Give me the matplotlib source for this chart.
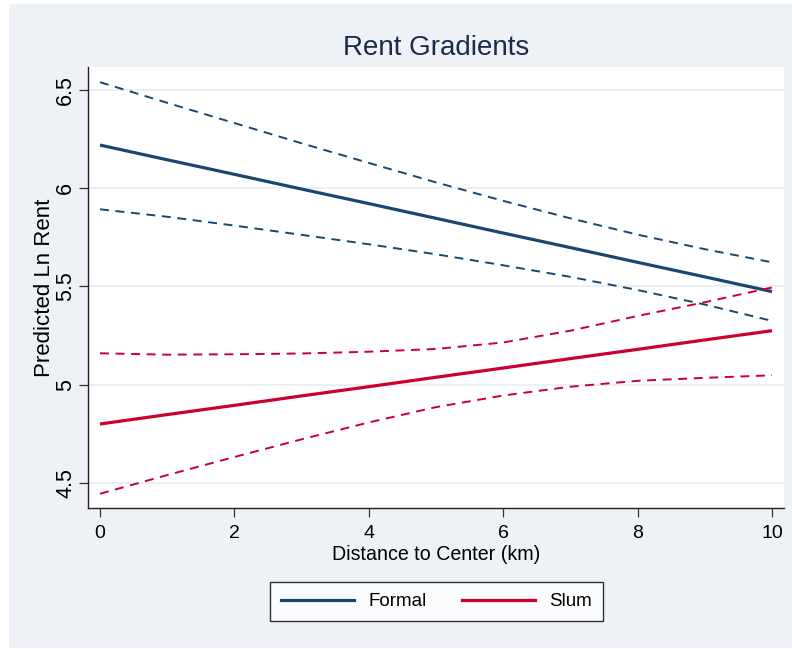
import matplotlib
matplotlib.use("Agg")
import matplotlib.pyplot as plt
from matplotlib.patches import Rectangle
from matplotlib.lines import Line2D

plt.rcParams["font.family"] = ["Liberation Sans", "DejaVu Sans"]

# Distance to center (km)
distance = [0, 1, 2, 3, 4, 5, 6, 7, 8, 9, 10]

# Formal housing: fitted ln rent and 95% band
formal_fit = [6.220, 6.145, 6.071, 5.996, 5.922, 5.847, 5.772, 5.698, 5.623, 5.549, 5.474]
formal_hi = [6.540, 6.435, 6.332, 6.229, 6.129, 6.030, 5.936, 5.847, 5.764, 5.690, 5.623]
formal_lo = [5.893, 5.855, 5.810, 5.763, 5.715, 5.664, 5.608, 5.549, 5.482, 5.408, 5.325]

# Slum housing: fitted ln rent and 95% band
slum_fit = [4.800, 4.848, 4.895, 4.943, 4.990, 5.038, 5.085, 5.133, 5.180, 5.228, 5.275]
slum_hi = [5.160, 5.153, 5.155, 5.159, 5.168, 5.182, 5.215, 5.275, 5.350, 5.420, 5.495]
slum_lo = [4.445, 4.540, 4.632, 4.722, 4.808, 4.886, 4.945, 4.990, 5.020, 5.035, 5.048]

x_ticks = [0, 2, 4, 6, 8, 10]
y_ticks = [4.5, 5, 5.5, 6, 6.5]
series_names = ["Formal", "Slum"]

NAVY = "#1A476F"
RED = "#CA0030"
BG = "#EEF1F6"
GRID = "#EAEFF4"

W, H = 792, 649
fig = plt.figure(figsize=(W / 100, H / 100), dpi=100)
fig.patch.set_facecolor("white")
fig.patches.append(Rectangle((9 / W, 1 / H), (W - 9) / W, (H - 5) / H,
                             transform=fig.transFigure, facecolor=BG,
                             edgecolor="none", zorder=-10))

ax = fig.add_axes([88 / W, 1 - 508 / H, (784 - 88) / W, (508 - 67) / H])
ax.set_facecolor("white")
for s in ["top", "right"]:
    ax.spines[s].set_visible(False)
for s in ["left", "bottom"]:
    ax.spines[s].set_color("#222222")
    ax.spines[s].set_linewidth(1.0)

ax.set_xlim(-12 / 67.2, 10 + 12 / 67.2)
ax.set_ylim(4.5 - 25 / 196, 6.5 + 23 / 196)
ax.set_xticks(x_ticks)
ax.set_xticklabels([str(t) for t in x_ticks])
ax.set_yticks(y_ticks)
ax.set_yticklabels(["4.5", "5", "5.5", "6", "6.5"], rotation=90, va="center")
ax.tick_params(axis="both", direction="out", length=6.5, width=0.9,
               color="#333333", pad=6)
ax.tick_params(axis="x", labelsize=14)
ax.tick_params(axis="y", labelsize=15.5, pad=2)
ax.yaxis.grid(True, color=GRID, linewidth=1.4)
ax.set_axisbelow(True)

dash = (4.6, 3.4)
ax.plot(distance, formal_hi, color=NAVY, lw=1.4, dashes=dash)
ax.plot(distance, formal_lo, color=NAVY, lw=1.4, dashes=dash)
ax.plot(distance, formal_fit, color=NAVY, lw=2.3, solid_capstyle="butt")
ax.plot(distance, slum_hi, color=RED, lw=1.4, dashes=dash)
ax.plot(distance, slum_lo, color=RED, lw=1.4, dashes=dash)
ax.plot(distance, slum_fit, color=RED, lw=2.3, solid_capstyle="butt")

ax.set_xlabel("Distance to Center (km)", fontsize=14.1)
ax.xaxis.set_label_coords(0.5, (508 - 555) / 441)
ax.xaxis.label.set_va("center")
ax.set_ylabel("Predicted Ln Rent", fontsize=16)
ax.yaxis.set_label_coords((44.5 - 88) / 696, (508 - 287.5) / 441)
ax.yaxis.label.set_va("center")

fig.text(436 / W, 1 - 55 / H, "Rent Gradients", ha="center", va="baseline",
         fontsize=20, color="#1C2A4B")

handles = [Line2D([], [], color=NAVY, lw=2.3), Line2D([], [], color=RED, lw=2.3)]
leg = fig.legend(handles, series_names, loc="center",
                 bbox_to_anchor=(436.5 / W, 1 - 601.5 / H), ncol=2,
                 fontsize=13.5, frameon=True, fancybox=False, shadow=False,
                 handlelength=3.9, handletextpad=0.75, columnspacing=1.9,
                 borderpad=0.6, borderaxespad=0)
leg.get_frame().set_edgecolor("black")
leg.get_frame().set_linewidth(1.0)
leg.get_frame().set_facecolor("white")

fig.savefig("out.png", dpi=100, facecolor=fig.get_facecolor())
